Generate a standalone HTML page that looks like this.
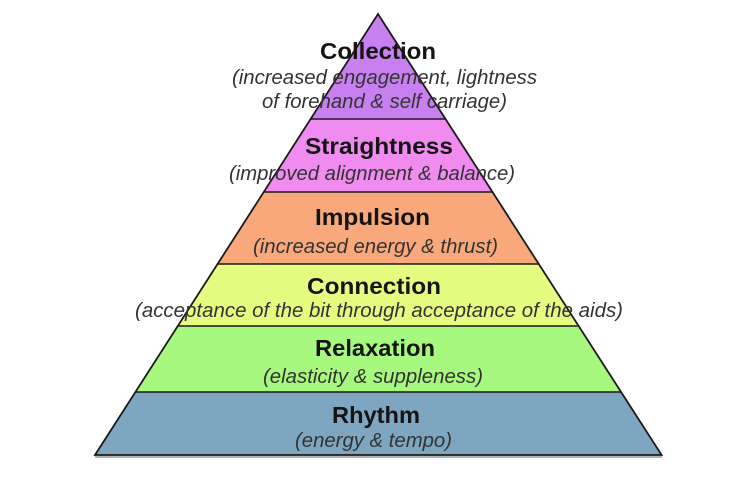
<!DOCTYPE html>
<html>
<head>
<meta charset="utf-8">
<style>
html,body{margin:0;padding:0;background:#fff;}
svg{display:block;}
.t{font-family:"Liberation Sans",Arial,sans-serif;font-weight:bold;font-size:23px;fill:#141414;}
.s{font-family:"Liberation Sans",Arial,sans-serif;font-style:italic;font-size:20px;fill:#333;}
</style>
</head>
<body>
<svg width="745" height="483" viewBox="0 0 745 483" xmlns="http://www.w3.org/2000/svg">
  <!-- bands -->
  <polygon points="378,14 445.5,119 310.6,119" fill="#c880f0"/>
  <polygon points="310.6,119 445.5,119 492.5,192 263.8,192" fill="#f08cf0"/>
  <polygon points="263.8,192 492.5,192 538.8,264 217.6,264" fill="#f8a87a"/>
  <polygon points="217.6,264 538.8,264 578.6,326 177.8,326" fill="#e6fc80"/>
  <polygon points="177.8,326 578.6,326 621.1,392 135.4,392" fill="#a6f87e"/>
  <polygon points="135.4,392 621.1,392 661.6,455 95,455" fill="#7fa6c0"/>
  <!-- dividers -->
  <g stroke="#1a1a1a" stroke-width="1.6">
    <line x1="310.6" y1="119" x2="445.5" y2="119"/>
    <line x1="263.8" y1="192" x2="492.5" y2="192"/>
    <line x1="217.6" y1="264" x2="538.8" y2="264"/>
    <line x1="177.8" y1="326" x2="578.6" y2="326"/>
    <line x1="135.4" y1="392" x2="621.1" y2="392"/>
  </g>
  <line x1="95" y1="457" x2="662" y2="457" stroke="#999" stroke-width="1.5"/>
  <polygon points="378,14 661.6,455 95,455" fill="none" stroke="#1a1a1a" stroke-width="1.8" stroke-linejoin="miter"/>
  <!-- text -->
  <text class="t" x="320" y="59" textLength="116" lengthAdjust="spacingAndGlyphs">Collection</text>
  <text class="s" x="232" y="84" textLength="305" lengthAdjust="spacingAndGlyphs">(increased engagement, lightness</text>
  <text class="s" x="262" y="108" textLength="245" lengthAdjust="spacingAndGlyphs">of forehand &amp; self carriage)</text>

  <text class="t" x="305" y="154" textLength="148" lengthAdjust="spacingAndGlyphs">Straightness</text>
  <text class="s" x="229" y="180" textLength="286" lengthAdjust="spacingAndGlyphs">(improved alignment &amp; balance)</text>

  <text class="t" x="315" y="225" textLength="115" lengthAdjust="spacingAndGlyphs">Impulsion</text>
  <text class="s" x="253" y="253" textLength="245" lengthAdjust="spacingAndGlyphs">(increased energy &amp; thrust)</text>

  <text class="t" x="307" y="294" textLength="134" lengthAdjust="spacingAndGlyphs">Connection</text>
  <text class="s" x="135" y="317" textLength="488" lengthAdjust="spacingAndGlyphs">(acceptance of the bit through acceptance of the aids)</text>

  <text class="t" x="315" y="356" textLength="120" lengthAdjust="spacingAndGlyphs">Relaxation</text>
  <text class="s" x="263" y="383" textLength="220" lengthAdjust="spacingAndGlyphs">(elasticity &amp; suppleness)</text>

  <text class="t" x="332" y="423" textLength="88" lengthAdjust="spacingAndGlyphs">Rhythm</text>
  <text class="s" x="295" y="447" textLength="157" lengthAdjust="spacingAndGlyphs">(energy &amp; tempo)</text>
</svg>
</body>
</html>
